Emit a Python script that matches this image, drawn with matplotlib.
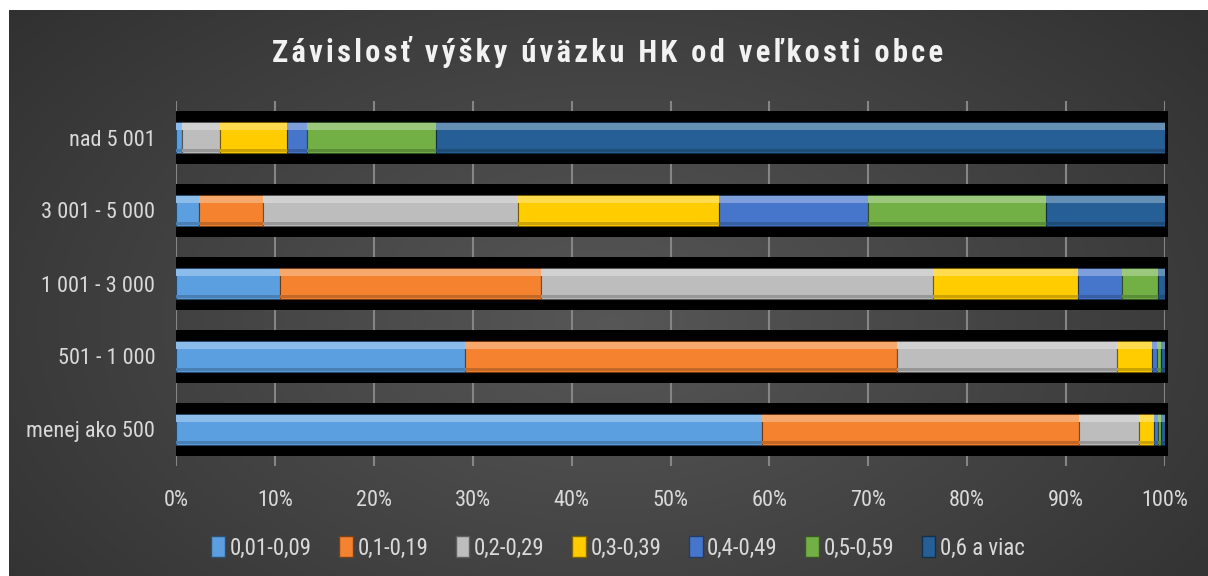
import numpy as np
import matplotlib
matplotlib.use("Agg")
import matplotlib.pyplot as plt
from matplotlib import font_manager
from matplotlib.patches import Patch


categories = ["nad 5 001", "3 001 - 5 000", "1 001 - 3 000", "501 - 1 000", "menej ako 500"]
series_names = ["0,01-0,09", "0,1-0,19", "0,2-0,29", "0,3-0,39", "0,4-0,49", "0,5-0,59", "0,6 a viac"]

# percentages per category (same order as categories)
s_001 = [0.6, 2.3, 10.5, 29.2, 59.3]
s_010 = [0.0, 6.5, 26.4, 43.7, 32.0]
s_020 = [3.8, 25.8, 39.6, 22.2, 6.1]
s_030 = [6.8, 20.3, 14.7, 3.6, 1.5]
s_040 = [2.0, 15.1, 4.5, 0.5, 0.4]
s_050 = [13.1, 18.0, 3.6, 0.4, 0.3]
s_060 = [73.7, 12.0, 0.7, 0.4, 0.4]

x_ticks = [0, 10, 20, 30, 40, 50, 60, 70, 80, 90, 100]

TITLE = "Závislosť výšky úväzku HK od veľkosti obce"
COLORS = ["#5b9fe0", "#f4822f", "#bdbdbd", "#ffcc00", "#4676cc", "#72b046", "#255f95"]
TEXT = "#d9d9d9"


def pick_font():
    for name in ["Liberation Sans Narrow", "Arial Narrow", "Roboto Condensed"]:
        try:
            font_manager.findfont(name, fallback_to_default=False)
            return name
        except Exception:
            pass
    return "Liberation Sans"


FONT = pick_font()
plt.rcParams["font.family"] = [FONT, "DejaVu Sans"]


def lighten(c, f):
    r, g, b = matplotlib.colors.to_rgb(c)
    return (r + (1 - r) * f, g + (1 - g) * f, b + (1 - b) * f)


def darken(c, f):
    r, g, b = matplotlib.colors.to_rgb(c)
    return (r * (1 - f), g * (1 - f), b * (1 - f))


def spaced(text):
    # fake letter spacing with hair spaces
    words = text.split(" ")
    return "  ".join("\u200a".join(w) for w in words)


W, H = 1208, 576
fig = plt.figure(figsize=(W / 100, H / 100), dpi=100)
fig.patch.set_facecolor("white")

# dark radial background
bg = fig.add_axes([9 / W, 0, 1 - 9 / W, 1 - 10 / H])
yy, xx = np.mgrid[0:200, 0:400]
d = np.sqrt(((xx - 200) / 230.0) ** 2 + ((yy - 110) / 150.0) ** 2)
shade = 0.34 - 0.17 * np.clip(d, 0, 1.3) / 1.3
bg.imshow(np.dstack([shade] * 3), aspect="auto", extent=[0, 1, 0, 1])
bg.axis("off")

ax = fig.add_axes([176 / W, 1 - 466 / H, (1165 - 176) / W, (466 - 101) / H])
ax.patch.set_alpha(0)

data = [s_001, s_010, s_020, s_030, s_040, s_050, s_060]
y = np.arange(len(categories))
bar_h = 0.42

# black band behind every category
ax.barh(y, [100.3] * len(y), height=0.73, left=0, color="black", zorder=2, clip_on=False)

left = np.zeros(len(categories))
for vals, col in zip(data, COLORS):
    vals = np.array(vals)
    ax.barh(y, vals, height=bar_h, left=left, color=col,
            edgecolor=darken(col, 0.55), linewidth=0.8, zorder=3)
    # bevel: light top strip, dark bottom strip
    ax.barh(y - bar_h * 0.36, vals, height=bar_h * 0.2, left=left,
            color=lighten(col, 0.3), linewidth=0, zorder=4)
    ax.barh(y + bar_h * 0.42, vals, height=bar_h * 0.12, left=left,
            color=darken(col, 0.2), linewidth=0, zorder=4)
    left += vals

ax.set_xlim(0, 100)
ax.set_ylim(len(categories) - 0.5, -0.5)
ax.set_xticks(x_ticks)
ax.set_xticklabels([f"{t}%" for t in x_ticks])
ax.set_yticks(y)
ax.set_yticklabels(categories)
ax.tick_params(axis="x", length=0, pad=17, labelsize=16, colors=TEXT)
ax.tick_params(axis="y", length=0, pad=15, labelsize=16, colors=TEXT)
ax.grid(axis="x", color="#858585", linewidth=1.5, zorder=1)
for s in ax.spines.values():
    s.set_visible(False)
ax.set_axisbelow(True)

fig.text(608 / W, 1 - 52 / H, spaced(TITLE),
         ha="center", va="center", color="#f2f2f2", fontsize=22, fontweight="bold")

handles = [Patch(facecolor=c, edgecolor=darken(c, 0.5)) for c in COLORS]
fig.legend(handles, series_names, loc="center", bbox_to_anchor=(618 / W, 1 - 548 / H),
           ncol=7, frameon=False, fontsize=16.5, labelcolor=TEXT,
           handlelength=0.6, handleheight=1.0, handletextpad=0.2, columnspacing=1.2)

fig.savefig("out.png", dpi=100)
